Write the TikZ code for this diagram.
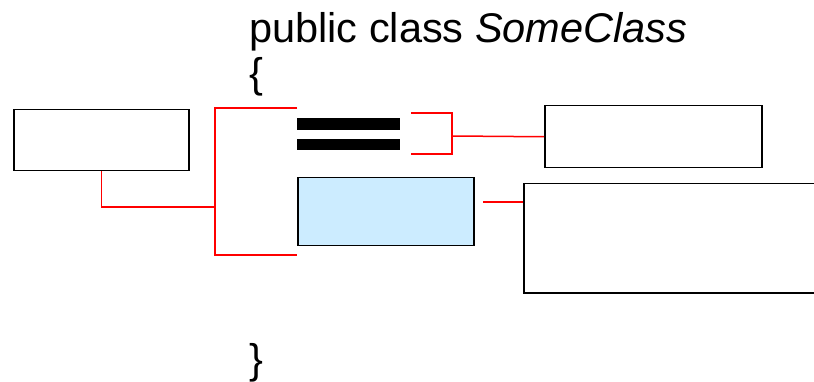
\documentclass[tikz,border=0pt]{standalone}
\usepackage{fontspec}
\setmainfont{Liberation Sans}
\usetikzlibrary{positioning}

\definecolor{methodfill}{HTML}{CCECFF}

\begin{document}
\begin{tikzpicture}
  [x=1pt, y=-1pt,
   box/.style={draw=black, line width=1.5pt, inner sep=0pt, anchor=north west},
   bar/.style={fill=black, inner sep=0pt, anchor=north west, minimum width=103pt, minimum height=11.5pt},
   link/.style={red, line width=1.5pt},
   code/.style={anchor=base west, inner sep=0pt, font=\fontsize{41.5}{45}\selectfont}]

  \useasboundingbox (0,0) rectangle (814,382);

  % class header and braces
  \node[code] (head) at (249,43) {public class \textit{SomeClass}};
  \node[code] (open) at (249,88) {\{};
  \node[code] (close) at (249,373) {\}};

  % the two fields and the method
  \node[bar] (field1) at (297,118) {};
  \node[bar] (field2) at (297,138.5) {};
  \node[box, fill=methodfill, minimum width=176pt, minimum height=68pt] (method) at (297,177) {};

  % empty boxes round the class
  \node[box, minimum width=175pt, minimum height=61pt] (member) at (13,109) {};
  \node[box, minimum width=217pt, minimum height=62pt] (fieldnote) at (544,105) {};
  \node[box, minimum width=291pt, minimum height=109pt] (methodnote) at (523,183) {};

  % bracket points
  \coordinate (bodytop) at (297,108);
  \coordinate (bodybot) at (297,255);
  \coordinate (spine) at (215,207);
  \coordinate (fieldtop) at (411,113);
  \coordinate (fieldbot) at (411,154);
  \coordinate (fieldjoin) at (452,136);
  \coordinate (methodtip) at (483,202);

  % red brackets
  \draw[link] (bodytop) -| (spine) |- (bodybot);
  \draw[link] (member.south) |- (spine);
  \draw[link] (fieldtop) -| (fieldjoin) |- (fieldbot);
  \draw[link] (fieldjoin) -- (fieldnote.west);
  \draw[link] (methodtip) -- (methodtip -| methodnote.west);

\end{tikzpicture}
\end{document}
